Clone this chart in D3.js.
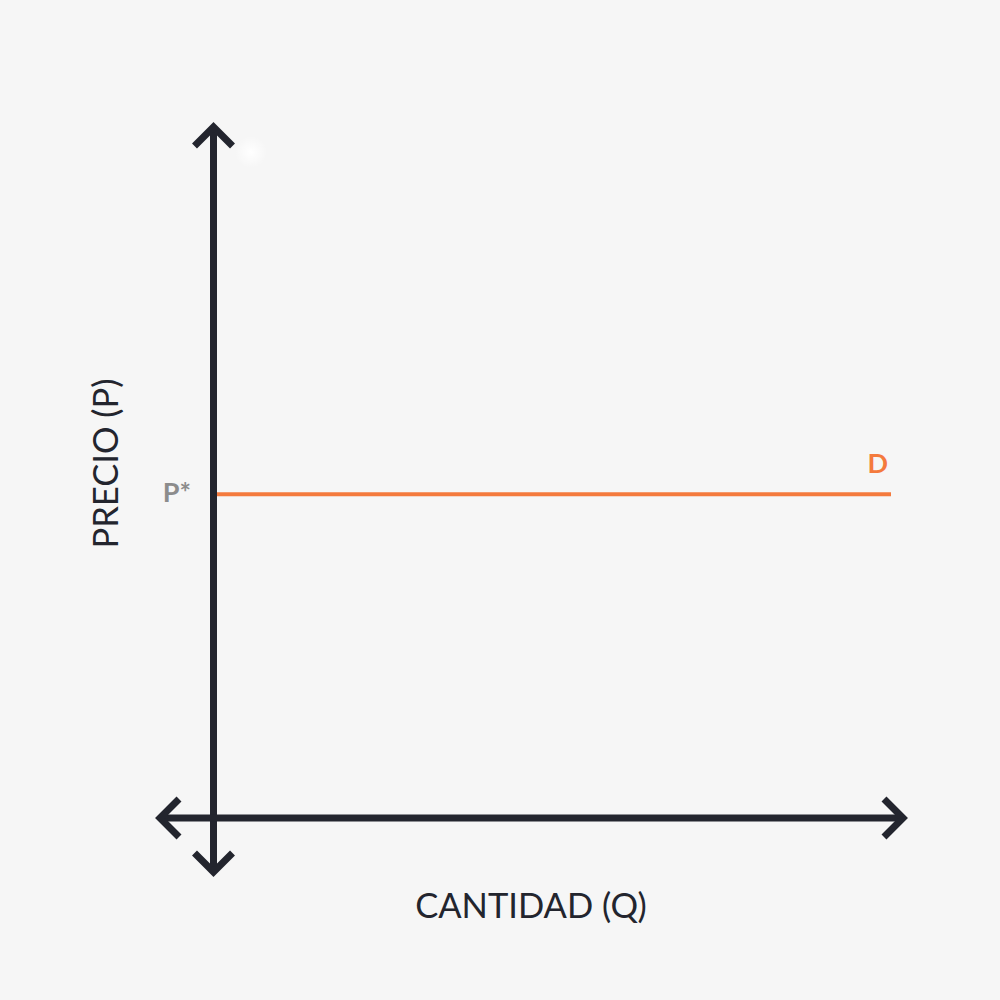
<!DOCTYPE html>
<html>
<head>
<meta charset="utf-8">
<script src="https://cdn.jsdelivr.net/npm/d3@7"></script>
<style>
html,body{margin:0;padding:0;background:#f6f6f6;}
svg{display:block;}
</style>
</head>
<body>
<svg id="chart" width="1000" height="1000"></svg>
<script>
// Data
const quantityDomain = [0, 100];
const priceDomain = [0, 100];
const demandQuantities = [0, 100];
const demandPrice = 46.5; // P*
const demandLabel = "D";
const priceTickLabel = "P*";
const xAxisLabel = "CANTIDAD (Q)";
const yAxisLabel = "PRECIO (P)";

const svg = d3.select("#chart");
const W = 1000, H = 1000;
svg.append("rect").attr("width", W).attr("height", H).attr("fill", "#f6f6f6");

const x = d3.scaleLinear().domain(quantityDomain).range([213.5, 891]);
const y = d3.scaleLinear().domain(priceDomain).range([818, 122]);

const axisColor = "#23252e";
const orange = "#f47a3d";
const sw = 7;
const arm = 19;

// faint glow
const defs = svg.append("defs");
const rg = defs.append("radialGradient").attr("id", "glow");
rg.append("stop").attr("offset", "0%").attr("stop-color", "#ffffff").attr("stop-opacity", 1);
rg.append("stop").attr("offset", "100%").attr("stop-color", "#ffffff").attr("stop-opacity", 0);
svg.append("circle").attr("cx", 251).attr("cy", 152).attr("r", 16).attr("fill", "url(#glow)");

const g = svg.append("g");

// axes lines
const x0 = x(0), y0 = y(0);
const yTop = 127, yBot = 872, xLeft = 160, xRight = 903;
g.append("line").attr("x1", x0).attr("x2", x0).attr("y1", yTop).attr("y2", yBot)
  .attr("stroke", axisColor).attr("stroke-width", sw);
g.append("line").attr("x1", xLeft).attr("x2", xRight).attr("y1", y0).attr("y2", y0)
  .attr("stroke", axisColor).attr("stroke-width", sw);

// arrowheads (chevrons)
const chev = (pts) => g.append("path").attr("d", d3.line()(pts))
  .attr("fill", "none").attr("stroke", axisColor).attr("stroke-width", sw)
  .attr("stroke-linejoin", "miter").attr("stroke-linecap", "butt");
chev([[x0 - arm, yTop + arm], [x0, yTop], [x0 + arm, yTop + arm]]);
chev([[x0 - arm, yBot - arm], [x0, yBot], [x0 + arm, yBot - arm]]);
chev([[xLeft + arm, y0 - arm], [xLeft, y0], [xLeft + arm, y0 + arm]]);
chev([[xRight - arm, y0 - arm], [xRight, y0], [xRight - arm, y0 + arm]]);

// demand line
g.append("line")
  .attr("x1", x(demandQuantities[0]) + sw / 2).attr("x2", x(demandQuantities[1]))
  .attr("y1", y(demandPrice)).attr("y2", y(demandPrice))
  .attr("stroke", orange).attr("stroke-width", 4);

g.append("text").attr("x", x(demandQuantities[1]) - 3).attr("y", y(demandPrice) - 21)
  .attr("text-anchor", "end").attr("font-family", "Lato").attr("font-weight", 700)
  .attr("font-size", 27).attr("fill", orange).text(demandLabel);

g.append("text").attr("x", 191).attr("y", y(demandPrice) + 8)
  .attr("text-anchor", "end").attr("font-family", "Lato").attr("font-weight", 700)
  .attr("font-size", 27).attr("fill", "#8c8c8c").text(priceTickLabel);

// axis labels
g.append("text").attr("x", 531).attr("y", 918)
  .attr("text-anchor", "middle").attr("font-family", "Lato").attr("font-size", 34.5)
  .attr("fill", axisColor).text(xAxisLabel);

g.append("text").attr("transform", "translate(118,463.5) rotate(-90)")
  .attr("text-anchor", "middle").attr("font-family", "Lato").attr("font-size", 34.5)
  .attr("fill", axisColor).text(yAxisLabel);
</script>
</body>
</html>
